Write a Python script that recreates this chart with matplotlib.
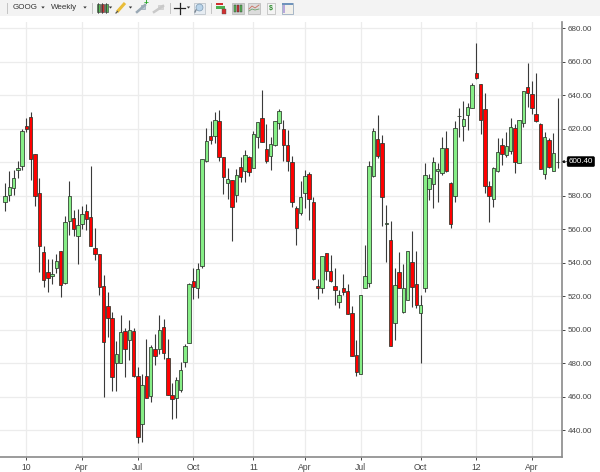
import matplotlib
matplotlib.use("Agg")
import matplotlib.pyplot as plt
from matplotlib.patches import Rectangle, Polygon

open_ = [576.5,580.6,584.4,595.2,598.0,621.6,627.2,604.7,581.6,546.2,534.3,532.3,536.9,547.3,528.1,564.8,566.7,556.2,563.0,571.1,567.1,549.0,545.1,526.4,514.0,506.9,480.4,480.4,499.1,494.2,499.5,472.3,443.6,472.3,460.7,488.8,488.8,501.9,483.4,461.1,459.2,463.9,480.6,492.4,528.9,524.8,538.3,600.6,615.9,615.9,624.4,602.9,587.4,589.4,580.3,597.0,595.0,602.9,596.6,614.9,626.2,607.7,603.9,610.1,623.4,620.1,610.1,600.4,572.7,569.9,581.9,593.2,576.1,526.4,525.2,545.7,534.9,526.4,516.4,525.0,523.4,509.9,484.8,473.9,525.0,528.2,592.0,613.7,611.3,563.0,553.4,503.9,534.3,510.5,517.8,540.3,527.2,509.9,525.2,583.8,586.8,595.0,593.4,608.3,587.8,579.7,627.4,621.8,628.0,632.4,653.2,646.9,632.0,586.0,577.9,594.6,610.5,604.1,606.7,620.2,599.7,623.4,645.1,640.9,628.6,623.0,593.0,613.1,594.8,600.4]
close = [580.1,585.0,590.6,596.6,618.9,619.8,602.1,580.1,549.8,529.7,531.0,533.1,540.9,526.8,564.2,579.7,560.0,562.4,568.9,566.3,550.0,545.1,525.4,492.9,507.3,471.7,485.6,498.5,488.4,499.9,472.3,436.1,467.1,459.5,489.8,484.6,499.9,486.4,461.3,458.5,470.3,476.2,490.2,527.2,525.4,536.1,601.7,612.9,613.5,625.0,603.3,591.0,590.2,573.1,592.2,591.0,604.1,594.0,616.7,624.2,611.9,600.7,611.1,624.8,630.4,610.1,601.0,576.5,560.8,579.5,591.8,578.3,530.3,525.2,544.3,535.3,529.2,523.8,520.8,522.8,509.3,484.6,474.9,521.0,531.9,598.0,618.4,603.9,579.1,564.0,490.6,526.6,524.8,524.8,546.9,525.4,514.8,514.8,592.2,590.6,599.9,595.7,608.7,594.8,562.9,620.4,627.8,626.0,633.2,646.1,650.0,625.2,586.0,580.0,596.6,605.9,604.7,609.9,621.2,600.3,625.0,642.7,641.3,632.2,624.4,596.2,614.9,597.0,605.3,600.4]
high = [587.4,595.0,595.4,600.8,619.7,626.2,629.8,604.7,590.8,550.0,542.3,542.3,545.3,547.3,568.0,588.8,571.5,572.1,573.9,575.1,598.0,560.6,545.1,532.7,522.8,510.9,493.3,509.1,500.9,505.9,500.9,477.6,473.5,494.5,490.8,497.3,508.9,506.3,494.3,468.1,472.1,480.6,491.6,528.0,536.7,540.1,601.7,620.2,624.8,630.2,631.2,602.9,596.8,589.4,596.0,602.9,607.3,603.9,618.8,624.2,643.1,622.6,615.3,624.8,631.6,625.2,619.2,603.9,573.9,588.6,595.4,594.4,579.5,530.3,544.3,545.7,544.5,536.7,523.8,533.3,527.2,514.2,493.9,521.0,550.6,600.7,620.2,628.2,616.3,574.5,565.2,537.1,546.5,539.3,546.9,558.8,547.0,520.8,599.4,593.0,603.3,599.7,614.9,618.6,588.4,624.6,632.2,636.7,635.2,647.1,670.9,646.9,641.5,588.8,597.4,614.7,614.3,618.0,626.2,622.6,625.2,642.7,659.0,648.5,653.4,623.6,618.2,614.7,617.2,638.1]
low = [570.9,576.9,580.5,590.8,595.4,618.3,589.4,573.9,534.7,525.4,522.4,527.4,533.7,519.8,527.4,556.4,556.2,539.5,560.2,559.6,550.0,541.7,520.8,459.7,495.9,463.7,463.5,480.4,471.7,482.0,471.7,432.7,432.9,459.1,457.1,479.0,485.6,482.4,460.9,447.0,447.4,463.1,478.0,492.0,518.2,518.8,536.7,600.4,610.9,611.3,600.9,581.1,578.1,553.0,576.5,588.4,588.4,591.8,596.6,608.3,611.9,599.7,595.6,609.9,620.1,601.0,595.0,573.1,550.8,568.5,572.9,565.3,529.7,518.4,521.8,529.7,528.8,514.8,512.8,520.8,509.3,484.6,472.5,473.9,525.0,525.8,591.4,602.7,562.2,540.7,490.6,493.9,524.8,510.3,517.8,513.8,512.8,480.4,522.8,577.5,572.5,576.5,592.4,594.0,561.0,576.5,615.2,612.7,619.2,632.4,649.6,617.1,581.4,564.5,573.5,594.2,598.3,603.3,604.9,593.8,599.3,621.2,633.2,628.6,623.8,595.8,590.0,596.4,594.8,596.8]

tick_idx = [5, 18, 31, 44, 58, 70, 83, 97, 110, 123]
tick_labels = ["10", "Apr", "Jul", "Oct", "11", "Apr", "Jul", "Oct", "12", "Apr"]
price_ticks = [440, 460, 480, 500, 520, 540, 560, 580, 600, 620, 640, 660, 680]
last_price = 600.40

W, H = 600, 472
fig = plt.figure(figsize=(6, 4.72), dpi=100, facecolor="white")
plt.rcParams["font.family"] = ["Liberation Sans", "DejaVu Sans"]

ax = fig.add_axes([0, 1 - 457 / H, 562.3 / W, (457 - 22) / H])
idx = list(range(len(close)))
colors = ["#86ee86" if c >= o else "#ff0000" for o, c in zip(open_, close)]
bottoms = [min(o, c) for o, c in zip(open_, close)]
heights = [abs(o - c) for o, c in zip(open_, close)]

ax.vlines(idx, low, high, colors="#3a3a3a", linewidth=0.8, zorder=2)
ax.bar(idx, heights, bottom=bottoms, width=0.8, color=colors,
       edgecolor="#2a352a", linewidth=0.55, zorder=3)

ax.set_xlim(-1.167, 130.09)
ax.set_ylim(424.1, 683.7)
ax.set_xticks(tick_idx)
ax.set_xticklabels(tick_labels, fontsize=6.2, color="#444444")
ax.set_yticks(price_ticks)
ax.set_yticklabels(["" if p == 600 else f"{p:.2f}" for p in price_ticks],
                   fontsize=5.8, color="#444444")
ax.yaxis.tick_right()
ax.grid(True, color="#ececec", linewidth=0.9)
ax.set_axisbelow(True)
for s in ("top", "left"):
    ax.spines[s].set_visible(False)
for s in ("right", "bottom"):
    ax.spines[s].set_color("#8a8a8a")
    ax.spines[s].set_linewidth(1.2)
ax.tick_params(axis="both", length=2.5, width=0.7, color="#444444", pad=1.5)

ax.annotate(f"{last_price:.2f}", xy=(1.0, last_price), xycoords=("axes fraction", "data"),
            xytext=(4.6, 0), textcoords="offset points", va="center", ha="left",
            fontsize=5.8, color="white", zorder=10, annotation_clip=False,
            bbox=dict(boxstyle="round,pad=0.2,rounding_size=0.2", fc="black", ec="black", lw=0.3),
            arrowprops=dict(arrowstyle="-|>,head_width=0.16,head_length=0.2",
                            color="black", lw=0.4, shrinkA=0, shrinkB=0))

# toolbar (application chrome), in pixel coordinates
tb = fig.add_axes([0, 0, 1, 1], facecolor="none")
tb.set_xlim(0, W)
tb.set_ylim(H, 0)
tb.axis("off")
tb.set_zorder(5)
tb.add_patch(Rectangle((0, 0), W, 15.5, fc="#f3f3f3", ec="none"))
for x in (7, 91.5, 169.5, 211):
    tb.plot([x, x], [3, 13], color="#c4c4c4", lw=0.7)
tb.text(13, 7.5, "GOOG", fontsize=5.8, color="#333333", va="center")
tb.text(51, 7.5, "Weekly", fontsize=5.8, color="#333333", va="center")
for x in (43, 85, 110.5, 130.5, 188.5):
    tb.add_patch(Polygon([(x - 1.7, 6.5), (x + 1.7, 6.5), (x, 8.6)], fc="#333333", ec="none"))
for x, c in ((98, "#55b855"), (102, "#d03030"), (106, "#55b855")):
    tb.plot([x, x], [2.5, 13], color="#333333", lw=0.5)
    tb.add_patch(Rectangle((x - 1.5, 4), 3, 7.5, fc=c, ec="#333333", lw=0.4))
tb.plot([117, 125], [12, 3], color="#e9bd3a", lw=2.2, solid_capstyle="butt")
tb.plot([116, 117.5], [13, 11.5], color="#555555", lw=0.9)
tb.plot([137, 145], [12, 5], color="#9aa9b5", lw=1.8)
tb.add_patch(Rectangle((141, 5), 4, 4, fc="#b9c8d6", ec="#8a98a5", lw=0.4))
tb.text(146, 3.5, "+", fontsize=6, color="#1fa51f", ha="center", va="center", weight="bold")
tb.plot([154, 163], [12, 6], color="#c9c9c9", lw=1.8)
tb.add_patch(Rectangle((158, 5), 5, 4, fc="#d6d6d6", ec="#c4c4c4", lw=0.4))
tb.plot([174, 185], [8, 8], color="#222222", lw=0.9)
tb.plot([179.5, 179.5], [2.5, 13.5], color="#222222", lw=0.9)
tb.add_patch(Rectangle((177.5, 6), 4, 4, fc="#f3f3f3", ec="none"))
tb.add_patch(Rectangle((194, 2.5), 11, 11, fc="#e6ecf2", ec="#b4bcc4", lw=0.5))
tb.plot([199], [7], marker="o", ms=5, mfc="#b9d4ea", mec="#7c98b0", mew=0.5)
tb.plot([196, 195], [10, 12], color="#7c8894", lw=1)
tb.add_patch(Rectangle((216, 2.5), 7, 2.5, fc="#d03030", ec="none"))
tb.add_patch(Rectangle((216, 6), 9, 2.5, fc="#4caf50", ec="none"))
tb.add_patch(Rectangle((222, 9), 4, 5, fc="#d03030", ec="#555555", lw=0.3))
tb.add_patch(Rectangle((232, 2.5), 12, 11, fc="#cfd3cf", ec="#a8a8a8", lw=0.4))
for x, c in ((235, "#55b855"), (238, "#d03030"), (241, "#55b855")):
    tb.add_patch(Rectangle((x - 1, 4.5), 2, 7, fc=c, ec="#333333", lw=0.3))
tb.add_patch(Rectangle((248, 2.5), 12, 11, fc="#dcdcdc", ec="#a8a8a8", lw=0.4))
tb.plot([249, 252, 255, 259], [9, 6, 8, 5], color="#c87060", lw=0.6)
tb.plot([249, 252, 255, 259], [11, 9, 10, 9], color="#70a070", lw=0.6)
tb.add_patch(Rectangle((267, 3), 8, 10.5, fc="#f4f4f4", ec="#a8a8a8", lw=0.4))
tb.text(271, 8.2, "$", fontsize=5, color="#2a8a2a", ha="center", va="center", weight="bold")
tb.add_patch(Rectangle((282, 2.5), 11, 11, fc="#f2f0ea", ec="#8aa0b8", lw=0.5))
tb.add_patch(Rectangle((282, 2.5), 11, 2.2, fc="#6f93bb", ec="none"))
tb.add_patch(Rectangle((282.5, 5), 2.5, 8, fc="#b9a8dc", ec="none"))

fig.savefig("out.png", dpi=100)
